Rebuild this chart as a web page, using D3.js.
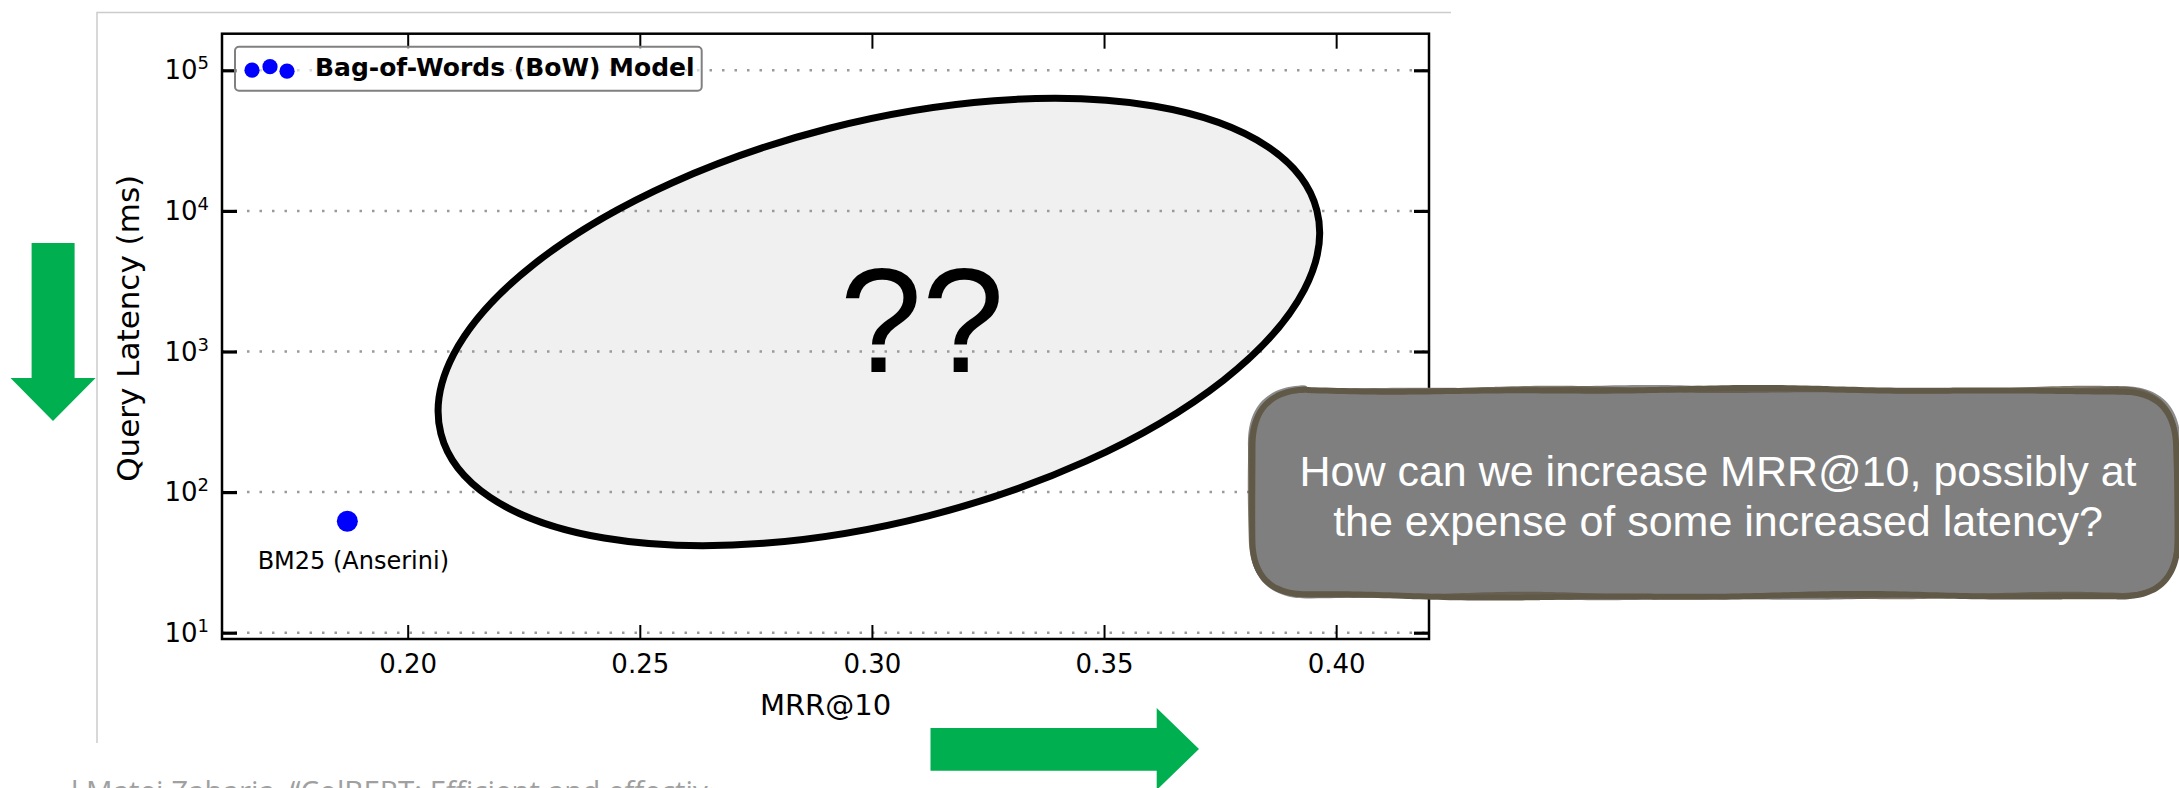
<!DOCTYPE html>
<html>
<head>
<meta charset="utf-8">
<script src="https://cdn.jsdelivr.net/npm/d3@7"></script>
<style>
  html, body { margin: 0; padding: 0; background: #ffffff; }
  svg { display: block; }
</style>
</head>
<body>
<svg id="chart" width="2179" height="788"></svg>
<script>
// data
const pointNames = ["BM25 (Anserini)"];
const pointMRR = [0.187];
const pointLatency = [62];
const legendLabels = ["Bag-of-Words (BoW) Model"];
const xTicks = [0.20, 0.25, 0.30, 0.35, 0.40];
const xTickLabels = ["0.20", "0.25", "0.30", "0.35", "0.40"];
const yTicks = [10, 100, 1000, 10000, 100000];
const yTickExponents = ["1", "2", "3", "4", "5"];
const regionCenter = [0.3015, 1620]; // MRR@10, latency of the "??" region
const calloutLines = [
    "How can we increase MRR@10, possibly at",
    "the expense of some increased latency?"
];
const footnote = "l Matei Zaharia. \u201cColBERT: Efficient and effective passage search via contextualized late interaction over BERT.\u201d";

const plot = { left: 222, right: 1429, top: 33.7, bottom: 639 };
const green = "#00b050";
const tickFont = "'DejaVu Sans', sans-serif";

const svg = d3.select("#chart");

// slide image frame
svg.append("path")
    .attr("d", "M97,743 V12.5 H1451")
    .attr("fill", "none")
    .attr("stroke", "#cccccc")
    .attr("stroke-width", 1.5);

const x = d3.scaleLinear()
    .domain([0.16, 0.42])
    .range([plot.left, plot.right]);

const y = d3.scaleLog()
    .domain([9.02, 182100])
    .range([plot.bottom, plot.top]);

const g = svg.append("g");

// the "??" region
const cx = x(regionCenter[0]);
const cy = y(regionCenter[1]);
g.append("ellipse")
    .attr("cx", cx)
    .attr("cy", cy)
    .attr("rx", 452)
    .attr("ry", 200)
    .attr("transform", `rotate(-14.3,${cx},${cy})`)
    .attr("fill", "#f0f0f0")
    .attr("stroke", "none");

// dotted horizontal grid
g.selectAll(".grid")
    .data(yTicks)
    .enter()
    .append("line")
    .attr("class", "grid")
    .attr("x1", plot.left)
    .attr("x2", plot.right)
    .attr("y1", (d) => y(d))
    .attr("y2", (d) => y(d))
    .attr("stroke", "#9a9a9a")
    .attr("stroke-width", 2.5)
    .attr("stroke-dasharray", "2.5 10");

g.append("ellipse")
    .attr("cx", cx)
    .attr("cy", cy)
    .attr("rx", 452)
    .attr("ry", 200)
    .attr("transform", `rotate(-14.3,${cx},${cy})`)
    .attr("fill", "none")
    .attr("stroke", "#000")
    .attr("stroke-width", 7);

// axes, ticks pointing inwards
const xAxis = g.append("g")
    .attr("transform", `translate(0,${plot.bottom})`)
    .call(d3.axisBottom(x).tickValues(xTicks).tickFormat((d, i) => xTickLabels[i])
        .tickSizeInner(-14).tickSizeOuter(0).tickPadding(16));
xAxis.selectAll("text")
    .style("font-family", tickFont)
    .style("font-size", "26px")
    .attr("fill", "#000");

const xTop = g.append("g")
    .attr("transform", `translate(0,${plot.top})`)
    .call(d3.axisTop(x).tickValues(xTicks).tickFormat("").tickSizeInner(-15).tickSizeOuter(0));

const yAxis = g.append("g")
    .attr("transform", `translate(${plot.left},0)`)
    .call(d3.axisLeft(y).tickValues(yTicks).tickFormat("").tickSizeInner(-15).tickSizeOuter(0));

const yRight = g.append("g")
    .attr("transform", `translate(${plot.right},0)`)
    .call(d3.axisRight(y).tickValues(yTicks).tickFormat("").tickSizeInner(-15).tickSizeOuter(0));

[xAxis, xTop].forEach((a) => a.selectAll(".tick line").attr("stroke", "#000").attr("stroke-width", 2));
[yAxis, yRight].forEach((a) => a.selectAll(".tick line").attr("stroke", "#000").attr("stroke-width", 3.2));
[xAxis, xTop, yAxis, yRight].forEach((a) => a.select(".domain").remove());

// 10^n labels
yAxis.selectAll(".tick")
    .append("text")
    .attr("x", -13)
    .attr("dy", 8.5)
    .attr("text-anchor", "end")
    .style("font-family", tickFont)
    .style("font-size", "26px")
    .attr("fill", "#000")
    .each(function (d, i) {
        const t = d3.select(this);
        t.append("tspan").text("10");
        t.append("tspan").attr("dy", -10).style("font-size", "18px").text(yTickExponents[i]);
    });

g.append("rect")
    .attr("x", plot.left)
    .attr("y", plot.top)
    .attr("width", plot.right - plot.left)
    .attr("height", plot.bottom - plot.top)
    .attr("fill", "none")
    .attr("stroke", "#000")
    .attr("stroke-width", 2.5);

// axis titles
g.append("text")
    .attr("x", (plot.left + plot.right) / 2)
    .attr("y", 715)
    .attr("text-anchor", "middle")
    .style("font-family", tickFont)
    .style("font-size", "29px")
    .text("MRR@10");

g.append("text")
    .attr("transform", `translate(139,${(plot.top + plot.bottom) / 2 - 8}) rotate(-90)`)
    .attr("text-anchor", "middle")
    .style("font-family", tickFont)
    .style("font-size", "31px")
    .text("Query Latency (ms)");

// BM25 point
g.selectAll(".pt")
    .data(pointMRR)
    .enter()
    .append("circle")
    .attr("class", "pt")
    .attr("cx", (d) => x(d))
    .attr("cy", (d, i) => y(pointLatency[i]))
    .attr("r", 10.5)
    .attr("fill", "#0000ff");

g.selectAll(".pt-label")
    .data(pointMRR)
    .enter()
    .append("text")
    .attr("class", "pt-label")
    .attr("x", (d) => x(d) + 6)
    .attr("y", (d, i) => y(pointLatency[i]) + 48)
    .attr("text-anchor", "middle")
    .style("font-family", tickFont)
    .style("font-size", "24px")
    .text((d, i) => pointNames[i]);

// legend
const legend = g.append("g").attr("transform", "translate(235,46.7)");
legend.append("rect")
    .attr("width", 466.7)
    .attr("height", 44)
    .attr("rx", 4)
    .attr("fill", "#ffffff")
    .attr("fill-opacity", 0.6)
    .attr("stroke", "#808080")
    .attr("stroke-width", 2);
legend.selectAll("circle")
    .data([[17, 23.5], [35, 20], [52, 24.5]])
    .enter()
    .append("circle")
    .attr("cx", (d) => d[0])
    .attr("cy", (d) => d[1])
    .attr("r", 7.6)
    .attr("fill", "#0000ff");
legend.append("text")
    .attr("x", 80)
    .attr("y", 29.5)
    .style("font-family", tickFont)
    .style("font-size", "25px")
    .style("font-weight", "bold")
    .text(legendLabels[0]);

// big question marks
g.append("text")
    .attr("x", 922)
    .attr("y", 372)
    .attr("text-anchor", "middle")
    .style("font-family", "'Liberation Sans', Arial, sans-serif")
    .style("font-size", "148px")
    .attr("fill", "#000")
    .text("??");

// callout box with a hand-drawn looking border
const box = { x: 1252, y: 390, w: 924, h: 206, r: 56 };
function roundRect(b) {
    const p = d3.path();
    const x0 = b.x, y0 = b.y, x1 = b.x + b.w, y1 = b.y + b.h;
    p.moveTo(x0 + b.r, y0);
    p.lineTo(x1 - b.r, y0);
    p.quadraticCurveTo(x1, y0, x1, y0 + b.r);
    p.lineTo(x1, y1 - b.r);
    p.quadraticCurveTo(x1, y1, x1 - b.r, y1);
    p.lineTo(x0 + b.r, y1);
    p.quadraticCurveTo(x0, y1, x0, y1 - b.r);
    p.lineTo(x0, y0 + b.r);
    p.quadraticCurveTo(x0, y0, x0 + b.r, y0);
    p.closePath();
    return p.toString();
}
// wobble the outline a little along its normal
function wobbly(d, amp, phase) {
    const tmp = svg.append("path").attr("d", d);
    const node = tmp.node();
    const len = node.getTotalLength();
    const pts = [];
    for (let s = 0; s < len; s += 6) {
        const p = node.getPointAtLength(s);
        const q = node.getPointAtLength(Math.min(s + 1, len));
        const dx = q.x - p.x, dy = q.y - p.y;
        const n = Math.hypot(dx, dy) || 1;
        const off = amp * (Math.sin(s / 95 + phase) + 0.6 * Math.sin(s / 41 + 2 * phase));
        pts.push([p.x - dy / n * off, p.y + dx / n * off]);
    }
    tmp.remove();
    return d3.line().curve(d3.curveCardinalClosed)(pts);
}
const base = roundRect(box);
svg.append("path")
    .attr("d", wobbly(base, 1.6, 1.3))
    .attr("fill", "#7f7f7f")
    .attr("stroke", "#8c8c8c")
    .attr("stroke-width", 5);
svg.append("path")
    .attr("d", wobbly(base, 1.3, 0))
    .attr("fill", "#7f7f7f")
    .attr("stroke", "#615947")
    .attr("stroke-width", 6);
svg.append("path")
    .attr("d", wobbly(base, 1.8, 2.4))
    .attr("fill", "none")
    .attr("stroke", "#615947")
    .attr("stroke-width", 3)
    .attr("stroke-opacity", 0.8);

svg.selectAll(".callout")
    .data(calloutLines)
    .enter()
    .append("text")
    .attr("class", "callout")
    .attr("x", 1718)
    .attr("y", (d, i) => 486 + i * 50)
    .attr("text-anchor", "middle")
    .style("font-family", "'Liberation Sans', Arial, sans-serif")
    .style("font-size", "43px")
    .attr("fill", "#ffffff")
    .text((d) => d);

// green direction arrows
svg.append("path")
    .attr("d", "M31.6,243 H74.6 V378 H95.6 L53,421 L10.5,378 H31.6 Z")
    .attr("fill", green);
svg.append("path")
    .attr("d", "M930.5,728 H1156.7 V708 L1199,749 L1156.7,790 V770.7 H930.5 Z")
    .attr("fill", green);

// citation peeking in at the bottom, cut off like on the slide
svg.append("clipPath")
    .attr("id", "foot-clip")
    .append("rect")
    .attr("x", 60)
    .attr("y", 760)
    .attr("width", 652)
    .attr("height", 40);
svg.append("text")
    .attr("x", 71)
    .attr("y", 802)
    .attr("clip-path", "url(#foot-clip)")
    .style("font-family", "'Open Sans', sans-serif")
    .style("font-size", "29.5px")
    .attr("fill", "#a0a0a0")
    .text(footnote);
</script>
</body>
</html>
